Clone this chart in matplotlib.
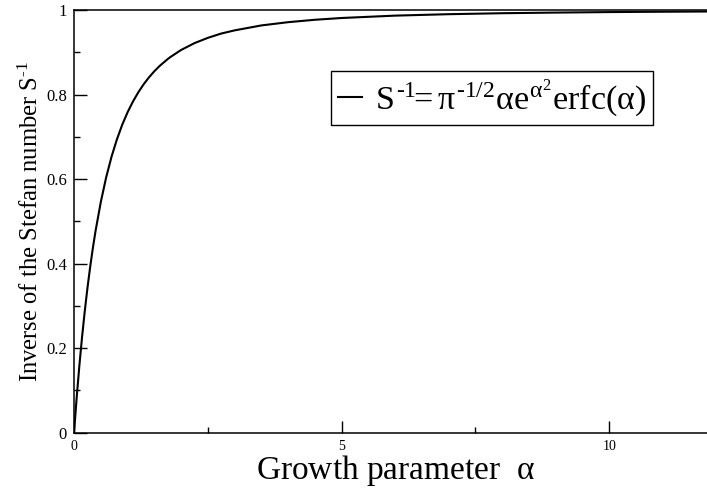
import matplotlib
matplotlib.use("Agg")
import matplotlib.pyplot as plt
from matplotlib.ticker import MultipleLocator

plt.rcParams["font.family"] = ["Liberation Serif", "DejaVu Serif"]
plt.rcParams["mathtext.fontset"] = "custom"
plt.rcParams["mathtext.rm"] = "Liberation Serif"
plt.rcParams["mathtext.it"] = "Liberation Serif"
plt.rcParams["mathtext.bf"] = "Liberation Serif:bold"

# growth parameter alpha and inverse Stefan number S^-1
alpha = [0.0, 0.05, 0.1, 0.15, 0.2, 0.25, 0.3, 0.35, 0.4, 0.5, 0.6, 0.7,
         0.8, 0.9, 1.0, 1.1, 1.2, 1.3, 1.4, 1.5, 1.6, 1.75, 1.8, 2.0, 2.25,
         2.5, 2.75, 3.0, 3.5, 4.0, 4.5, 5.0, 6.0, 7.0, 8.0, 9.0, 10.0,
         11.0, 12.0]
inv_stefan = [0.0, 0.0838, 0.1589, 0.2262, 0.2868, 0.3413, 0.3906, 0.4352,
              0.4756, 0.5456, 0.6038, 0.6525, 0.6935, 0.7283, 0.7579, 0.7832,
              0.8051, 0.8241, 0.8406, 0.8550, 0.8677, 0.8839, 0.8887, 0.9054,
              0.9216, 0.9341, 0.9443, 0.9518, 0.9635, 0.9712, 0.9769, 0.9811,
              0.9867, 0.9901, 0.9924, 0.9939, 0.9951, 0.9959, 0.9966]

HY = "\u2010"  # typographic hyphen for the exponents
legend_label = (r"$S^{" + HY + r"1}\!\!= \pi^{" + HY + r"1/2}\alpha "
                r"e^{\alpha^2}erfc(\alpha)$")
x_label = r"Growth parameter  $\alpha$"
y_label = r"Inverse of the Stefan number S$^{" + HY + r"1}$"

fig = plt.figure(figsize=(7.07, 4.88), dpi=100)
ax = fig.add_axes([0.1047, 0.1133, 0.9084, 0.8662])

ax.plot(alpha, inv_stefan, color="black", linewidth=1.5, label=legend_label)

ax.set_xlim(0, 12)
ax.set_ylim(0, 1)
ax.xaxis.set_major_locator(MultipleLocator(5))
ax.xaxis.set_minor_locator(MultipleLocator(2.5))
ax.yaxis.set_minor_locator(MultipleLocator(0.1))
ax.set_yticks([0, 0.2, 0.4, 0.6, 0.8, 1.0])
ax.set_yticklabels(["0", "0.2", "0.4", "0.6", "0.8", "1"])

ax.tick_params(which="both", direction="in", top=False, right=False, width=1.0)
ax.tick_params(which="major", length=9)
ax.tick_params(which="minor", length=4.5)
ax.tick_params(axis="x", labelsize=10, pad=5)
ax.tick_params(axis="y", labelsize=12, pad=5)

for sp in ax.spines.values():
    sp.set_linewidth(1.1)

ax.set_xlabel(x_label, fontsize=24, labelpad=0.5)
ax.set_ylabel(y_label, fontsize=17.7, labelpad=2)

leg = ax.legend(loc="upper left", bbox_to_anchor=(331 / 707, 1 - 70.7 / 488),
                bbox_transform=fig.transFigure, fontsize=24.5, frameon=True,
                fancybox=False, edgecolor="black", framealpha=1,
                handlelength=0.7, handletextpad=0.4, borderpad=0.2,
                borderaxespad=0)
leg.get_frame().set_linewidth(1.0)

fig.savefig("out.png", dpi=100)
